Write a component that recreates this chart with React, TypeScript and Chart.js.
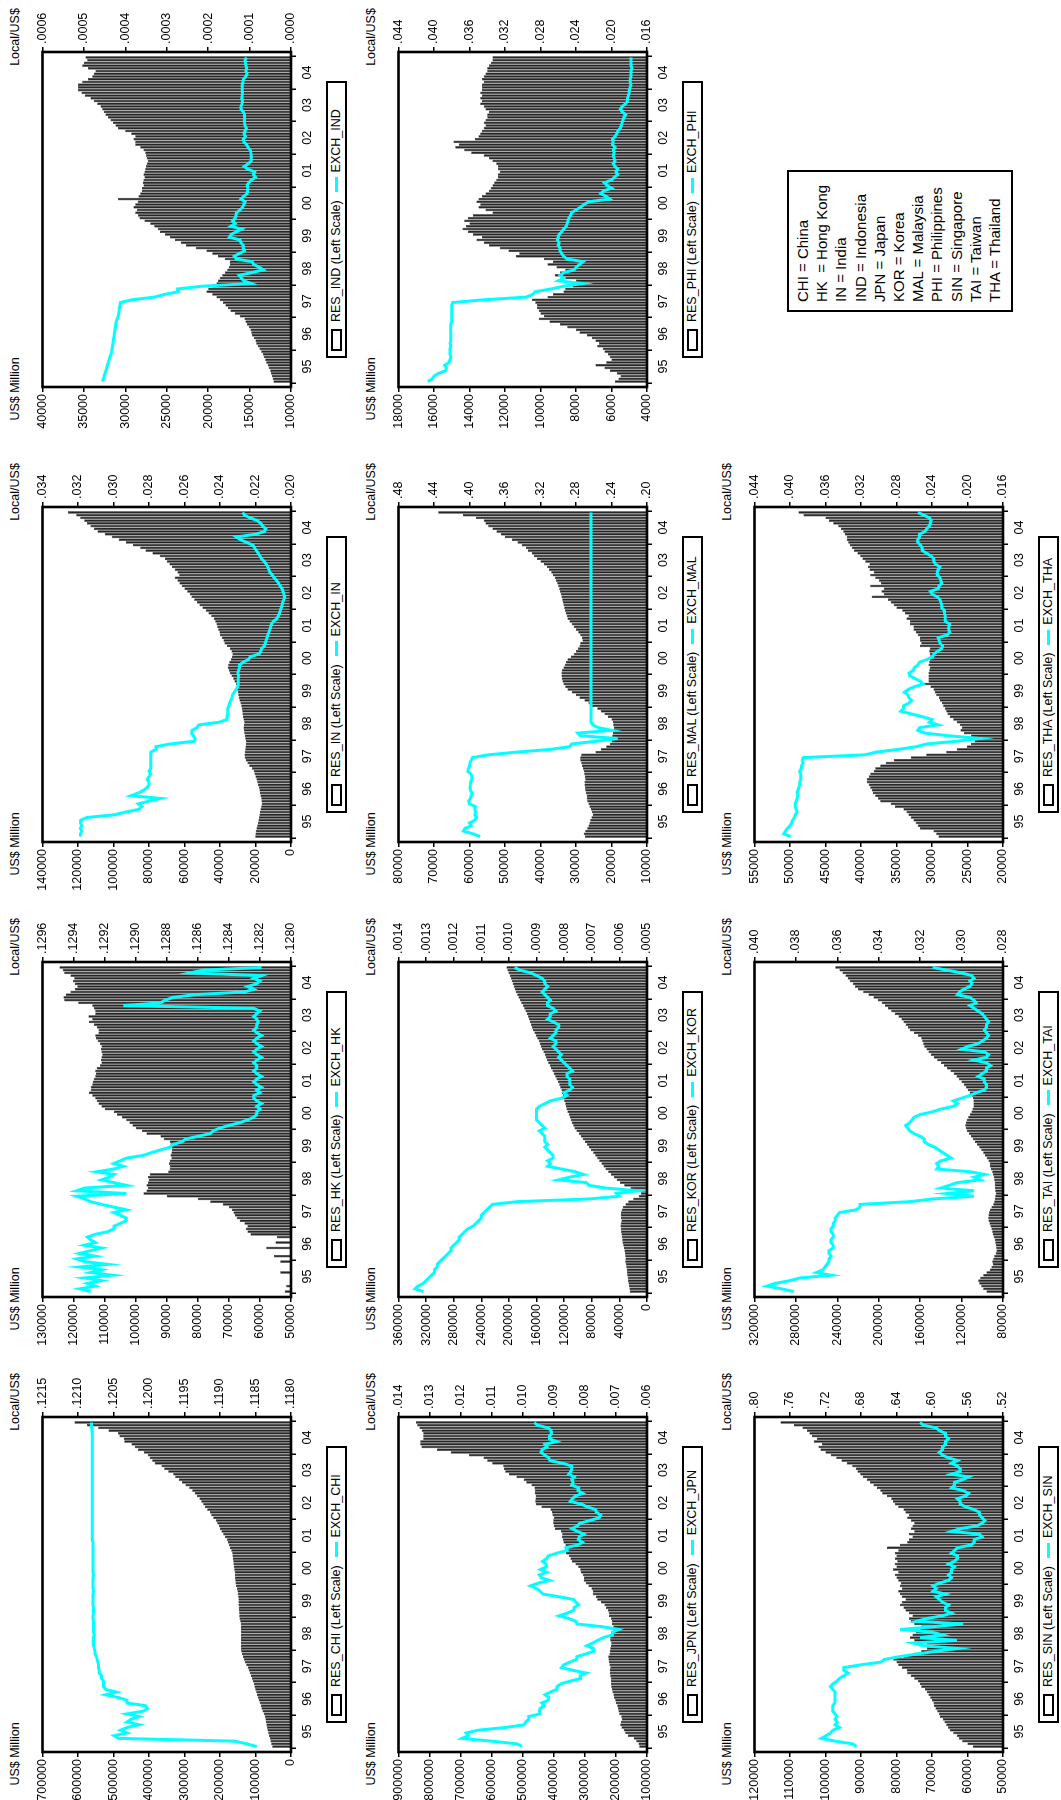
import React, { useEffect, useRef } from 'react';
import { Chart, registerables } from 'chart.js';

Chart.register(...registerables);

// ---------- axis labels ----------
const YEAR_LABELS = ['95', '96', '97', '98', '99', '00', '01', '02', '03', '04'];
const X_TICKS = [0, 6, 12, 18, 24, 30, 36, 42, 48, 54, 60, 66, 72, 78, 84, 90, 96, 102, 108, 114, 120];

const CHI_LEFT_TICKS = [0, 100000, 200000, 300000, 400000, 500000, 600000, 700000];
const CHI_RIGHT_TICKS = [0.118, 0.1185, 0.119, 0.1195, 0.12, 0.1205, 0.121, 0.1215];
const HK_LEFT_TICKS = [50000, 60000, 70000, 80000, 90000, 100000, 110000, 120000, 130000];
const HK_RIGHT_TICKS = [0.128, 0.1282, 0.1284, 0.1286, 0.1288, 0.129, 0.1292, 0.1294, 0.1296];
const IN_LEFT_TICKS = [0, 20000, 40000, 60000, 80000, 100000, 120000, 140000];
const IN_RIGHT_TICKS = [0.02, 0.022, 0.024, 0.026, 0.028, 0.03, 0.032, 0.034];
const IND_LEFT_TICKS = [10000, 15000, 20000, 25000, 30000, 35000, 40000];
const IND_RIGHT_TICKS = [0, 0.0001, 0.0002, 0.0003, 0.0004, 0.0005, 0.0006];
const JPN_LEFT_TICKS = [100000, 200000, 300000, 400000, 500000, 600000, 700000, 800000, 900000];
const JPN_RIGHT_TICKS = [0.006, 0.007, 0.008, 0.009, 0.01, 0.011, 0.012, 0.013, 0.014];
const KOR_LEFT_TICKS = [0, 40000, 80000, 120000, 160000, 200000, 240000, 280000, 320000, 360000];
const KOR_RIGHT_TICKS = [0.0005, 0.0006, 0.0007, 0.0008, 0.0009, 0.001, 0.0011, 0.0012, 0.0013, 0.0014];
const MAL_LEFT_TICKS = [10000, 20000, 30000, 40000, 50000, 60000, 70000, 80000];
const MAL_RIGHT_TICKS = [0.2, 0.24, 0.28, 0.32, 0.36, 0.4, 0.44, 0.48];
const PHI_LEFT_TICKS = [4000, 6000, 8000, 10000, 12000, 14000, 16000, 18000];
const PHI_RIGHT_TICKS = [0.016, 0.02, 0.024, 0.028, 0.032, 0.036, 0.04, 0.044];
const SIN_LEFT_TICKS = [50000, 60000, 70000, 80000, 90000, 100000, 110000, 120000];
const SIN_RIGHT_TICKS = [0.52, 0.56, 0.6, 0.64, 0.68, 0.72, 0.76, 0.8];
const TAI_LEFT_TICKS = [80000, 120000, 160000, 200000, 240000, 280000, 320000];
const TAI_RIGHT_TICKS = [0.028, 0.03, 0.032, 0.034, 0.036, 0.038, 0.04];
const THA_LEFT_TICKS = [20000, 25000, 30000, 35000, 40000, 45000, 50000, 55000];
const THA_RIGHT_TICKS = [0.016, 0.02, 0.024, 0.028, 0.032, 0.036, 0.04, 0.044];

// ---------- data: monthly 1995:01 - 2004:12 ----------
const RES_CHI = [
  53000, 55500, 57500, 59500, 62000, 64000, 66000, 67500, 69000, 70500, 72000, 73600,
  77000, 80000, 83000, 85500, 88000, 91000, 94000, 96000, 98000, 100500, 103000, 105000,
  107500, 110000, 113000, 116000, 119000, 122000, 126000, 130000, 133000, 135500, 138000, 140000,
  140500, 140500, 140800, 141000, 140900, 140700, 140600, 140800, 141100, 141700, 142800, 145000,
  145500, 146000, 146800, 147500, 148000, 148000, 148200, 148800, 149800, 150800, 152000, 154700,
  156000, 156800, 157400, 158000, 158800, 159600, 161000, 162000, 163000, 164000, 164800, 165600,
  168000, 171500, 175000, 178000, 181000, 186000, 191000, 196000, 200000, 203000, 208000, 212200,
  219000, 225000, 228000, 236000, 242000, 247000, 253000, 258000, 265000, 271000, 278000, 286400,
  297000, 307000, 316000, 326000, 332000, 346000, 357000, 365000, 384000, 391000, 398000, 403300,
  415000, 431000, 440000, 449000, 470000, 471000, 483000, 487000, 514000, 543000, 575000, 610000,
];
const EXCH_CHI = [
  0.11848, 0.11862, 0.1188, 0.12043, 0.12049, 0.12031, 0.1204, 0.12031, 0.12014, 0.12031, 0.12025, 0.12014,
  0.12031, 0.12008, 0.12002, 0.12005, 0.12031, 0.12031, 0.12043, 0.12061, 0.12046, 0.12061, 0.12064, 0.12064,
  0.12064, 0.12067, 0.12067, 0.1207, 0.1207, 0.12071, 0.12071, 0.12072, 0.12073, 0.12074, 0.12076, 0.12076,
  0.12077, 0.12078, 0.12078, 0.12078, 0.12078, 0.12077, 0.12078, 0.12078, 0.12078, 0.12078, 0.12078, 0.12079,
  0.12079, 0.12078, 0.12078, 0.12078, 0.12079, 0.12079, 0.12079, 0.12079, 0.12079, 0.12078, 0.12079, 0.12079,
  0.12079, 0.12079, 0.12079, 0.12078, 0.12079, 0.12079, 0.12079, 0.12079, 0.12079, 0.12079, 0.12079, 0.12079,
  0.12079, 0.12079, 0.12079, 0.12079, 0.1208, 0.1208, 0.1208, 0.1208, 0.1208, 0.1208, 0.1208, 0.1208,
  0.1208, 0.1208, 0.1208, 0.1208, 0.1208, 0.1208, 0.1208, 0.1208, 0.1208, 0.1208, 0.1208, 0.1208,
  0.1208, 0.1208, 0.1208, 0.1208, 0.1208, 0.1208, 0.1208, 0.1208, 0.1208, 0.1208, 0.1208, 0.1208,
  0.1208, 0.1208, 0.1208, 0.1208, 0.1208, 0.1208, 0.1208, 0.1208, 0.1208, 0.12081, 0.12081, 0.12081,
];

const RES_HK = [
  52000, null, 51500, null, null, null, null, 53500, null, null, null, 53500,
  null, 55500, null, null, 58000, null, 55000, null, 54500, 63000, 64000, 64500,
  64000, 65000, 66500, 67500, 68000, 68500, 69000, 70000, 72000, 76000, 80000, 90000,
  97500, 96500, 96000, 96500, 96000, 95800, 96000, 95500, 89500, 89000, 89000, 89300,
  89000, 88500, 88800, 88500, 88300, 88500, 88800, 89000, 91000, 92000, 96500, 98000,
  100000, 101000, 102000, 103000, 104500, 106000, 107000, 110000, 111000, 112000, 112500, 113000,
  114000, 115000, 114500, 114500, 114000, 113800, 113500, 113000, 112800, 113000, 112500, 111500,
  111000, 111200, 111000, 110800, 111000, 111200, 111000, 111500, 112200, 112800, 113000, 112000,
  112000, 112500, 113500, 115000, 114000, 115200, 113000, 113000, 113500, 114000, 118500, 123000,
  123200, 122500, 121000, 119500, 118800, 119500, 120200, 119800, 121000, 123000, 123500, 124500,
];
const EXCH_HK = [
  0.12929, 0.12936, 0.12926, 0.12931, 0.12922, 0.12933, 0.12915, 0.12929, 0.12922, 0.12936, 0.12918, 0.12933,
  0.12938, 0.12926, 0.12936, 0.12929, 0.12922, 0.12933, 0.12926, 0.12929, 0.12931, 0.12926, 0.12918, 0.12914,
  0.12914, 0.1291, 0.12906, 0.12906, 0.1291, 0.12914, 0.12906, 0.12914, 0.12922, 0.12929, 0.12933, 0.12938,
  0.12906, 0.12938, 0.12933, 0.12906, 0.12914, 0.12922, 0.12917, 0.12914, 0.12925, 0.12914, 0.12908, 0.12914,
  0.1291, 0.12906, 0.12895, 0.1289, 0.12884, 0.12878, 0.12876, 0.1287, 0.12868, 0.1286, 0.12852, 0.1285,
  0.12846, 0.1284, 0.12833, 0.12828, 0.12824, 0.12822, 0.12822, 0.1282, 0.12822, 0.12819, 0.12822, 0.12824,
  0.12824, 0.1282, 0.12822, 0.12819, 0.12822, 0.12824, 0.12822, 0.12819, 0.12822, 0.12824, 0.12822, 0.12822,
  0.12824, 0.12822, 0.12819, 0.12822, 0.12824, 0.12822, 0.12819, 0.12822, 0.12824, 0.12822, 0.12819, 0.12822,
  0.12824, 0.12822, 0.12822, 0.12821, 0.12822, 0.12824, 0.12822, 0.1282, 0.12824, 0.12908, 0.12884, 0.12881,
  0.12876, 0.12862, 0.1283, 0.12824, 0.12828, 0.12822, 0.1282, 0.12824, 0.12819, 0.12865, 0.12857, 0.12819,
];

const RES_IN = [
  20200, 20000, 19800, 19500, 19000, 18600, 18300, 18000, 17800, 17500, 17200, 16800,
  16500, 16600, 16800, 17200, 17500, 17800, 18200, 18600, 19000, 19500, 20000, 20500,
  21000, 22000, 23500, 24500, 25500, 26000, 26200, 26000, 25800, 25600, 25500, 25400,
  25800, 26000, 26300, 26500, 26800, 26500, 26400, 26700, 27000, 27300, 27500, 27800,
  28000, 28500, 29000, 29400, 29700, 30000, 30300, 30500, 31000, 31800, 32500, 33500,
  34500, 35000, 35600, 35400, 34800, 34000, 33300, 33000, 33500, 34500, 36000, 37500,
  38000, 39000, 40000, 40300, 41000, 41500, 42000, 42700, 43500, 45000, 46500, 48000,
  49800, 51500, 53000, 54500, 56000, 57000, 58500, 60000, 61500, 62800, 64000, 65500,
  63000, 64000, 65500, 67000, 68500, 70000, 71000, 74000, 78000, 82000, 85000, 89000,
  93000, 97000, 101000, 105000, 109000, 111000, 113000, 115000, 116500, 118700, 121000, 125700,
];
const EXCH_IN = [
  0.03186, 0.03186, 0.0318, 0.03186, 0.0318, 0.03186, 0.03185, 0.0315, 0.02996, 0.0293, 0.02857, 0.0284,
  0.0286, 0.028, 0.02736, 0.029, 0.0286, 0.0283, 0.0281, 0.028, 0.028, 0.0281, 0.028, 0.0279,
  0.028, 0.0279, 0.0279, 0.0279, 0.0279, 0.0279, 0.0279, 0.0279, 0.0276, 0.0276, 0.0268, 0.02545,
  0.0254, 0.0255, 0.0256, 0.02557, 0.0253, 0.0252, 0.02403, 0.0236, 0.0236, 0.02356, 0.02356, 0.02356,
  0.0235, 0.02345, 0.0234, 0.02332, 0.0233, 0.0232, 0.0231, 0.023, 0.02297, 0.02297, 0.02297, 0.02295,
  0.023, 0.02295, 0.0229, 0.0229, 0.0227, 0.0224, 0.0223, 0.0218, 0.0217, 0.02166, 0.0215, 0.02145,
  0.0214, 0.02135, 0.0213, 0.02125, 0.02119, 0.02115, 0.0211, 0.021, 0.0208, 0.02071, 0.02065, 0.0206,
  0.02055, 0.0205, 0.02047, 0.0204, 0.02036, 0.0204, 0.02045, 0.0205, 0.0206, 0.0207, 0.0208, 0.02095,
  0.02105, 0.02119, 0.02125, 0.0213, 0.0214, 0.0215, 0.02166, 0.02175, 0.02185, 0.02195, 0.02205, 0.02214,
  0.0225, 0.02285, 0.02308, 0.022, 0.0215, 0.02142, 0.0216, 0.0217, 0.0219, 0.0223, 0.02261, 0.02273,
];

const RES_IND = [
  12100, 12200, 12300, 12400, 12500, 12700, 12800, 13000, 13100, 13300, 13400, 13600,
  13800, 14000, 14200, 14300, 14500, 14700, 14800, 14900, 15100, 15300, 15500, 15600,
  16200, 16800, 17300, 17600, 17900, 18200, 18600, 19000, 19500, 20200, 20000, 19500,
  19000, 18800, 18600, 18300, 18000, 17700, 17500, 17400, 17400, 18000, 18800, 19500,
  20200, 21500, 22700, 23300, 24000, 24600, 25200, 25800, 26100, 26500, 27000, 27700,
  28300, 28500, 28800, 28600, 29000, 28800, 28500, 30900, 28400, 28200, 28000, 28000,
  27800, 27900, 27800, 27700, 27800, 27700, 27600, 27500, 27400, 27300, 27400, 27500,
  27600, 27800, 28200, 28800, 28800, 29000, 28800, 29300, 30000, 30900, 31200, 31500,
  31800, 32100, 32400, 32600, 32800, 33000, 33400, 33800, 34200, 34900, 35300, 35700,
  35700, 35700, 35200, 34500, 34000, 33800, 33600, 34500, 35200, 35000, 34600, 34800,
];
const EXCH_IND = [
  0.000455, 0.000453, 0.000451, 0.000449, 0.000447, 0.000445, 0.000443, 0.000441, 0.000439, 0.000437, 0.000435, 0.000433,
  0.000432, 0.000431, 0.00043, 0.000429, 0.000428, 0.000427, 0.000426, 0.000425, 0.000424, 0.000423, 0.000422, 0.00042,
  0.000417, 0.000416, 0.000415, 0.000414, 0.000413, 0.000412, 0.000385, 0.00033, 0.000305, 0.000272, 0.000274, 0.000215,
  0.0000964, 0.000114, 0.00012, 0.000125, 0.000095, 0.0000671, 0.0000769, 0.0000903, 0.0000935, 0.000132, 0.000137, 0.000125,
  0.000112, 0.000115, 0.000115, 0.000121, 0.000123, 0.000149, 0.000145, 0.000132, 0.000119, 0.000145, 0.000135, 0.000141,
  0.000135, 0.000133, 0.000132, 0.000123, 0.000117, 0.000114, 0.000111, 0.000121, 0.000114, 0.000106, 0.000105, 0.000104,
  0.000106, 0.000102, 0.0000962, 0.0000857, 0.0000904, 0.0000874, 0.000105, 0.000113, 0.000103, 0.0000958, 0.0000959, 0.0000962,
  0.0000969, 0.0000981, 0.000104, 0.000107, 0.000114, 0.000115, 0.00011, 0.000113, 0.000111, 0.000108, 0.000111, 0.000112,
  0.000113, 0.000112, 0.000112, 0.000115, 0.000121, 0.000121, 0.000118, 0.000117, 0.000119, 0.000118, 0.000117, 0.000118,
  0.000118, 0.000118, 0.000116, 0.000115, 0.000109, 0.000106, 0.000109, 0.000107, 0.000109, 0.00011, 0.000111, 0.000108,
];

const RES_JPN = [
  125000, 127000, 135000, 143000, 162000, 170000, 175000, 182000, 186000, 184000, 181000, 183000,
  189000, 192000, 193000, 196000, 200000, 202000, 206000, 208000, 211000, 213000, 215000, 217000,
  216000, 217000, 218000, 219000, 220000, 218000, 221000, 222000, 224000, 225000, 221000, 220000,
  218000, 216000, 215000, 218000, 218000, 215000, 210000, 208000, 209000, 213000, 213000, 216000,
  222000, 223000, 226000, 232000, 237000, 248000, 260000, 264000, 275000, 275000, 279000, 288000,
  297000, 304000, 303000, 307000, 313000, 315000, 321000, 330000, 342000, 346000, 352000, 361000,
  360000, 362000, 362000, 369000, 371000, 374000, 373000, 377000, 397000, 400000, 402000, 402000,
  400000, 404000, 406000, 411000, 440000, 458000, 460000, 459000, 458000, 461000, 461000, 462000,
  472000, 489000, 497000, 520000, 544000, 556000, 560000, 563000, 598000, 614000, 626000, 673000,
  732000, 776000, 826000, 830000, 830000, 820000, 820000, 820000, 825000, 832000, 840000, 844000,
];
const EXCH_JPN = [
  0.01002, 0.01018, 0.01101, 0.01195, 0.01175, 0.01182, 0.01144, 0.01056, 0.00995, 0.00991, 0.00981, 0.00981,
  0.00945, 0.00946, 0.00944, 0.00931, 0.00939, 0.00918, 0.00916, 0.00928, 0.00911, 0.0089, 0.0089, 0.00878,
  0.00848, 0.00814, 0.00815, 0.00796, 0.00839, 0.00875, 0.00868, 0.00848, 0.00827, 0.00826, 0.00797, 0.00771,
  0.00772, 0.00794, 0.00775, 0.00758, 0.00741, 0.00711, 0.00711, 0.00691, 0.00743, 0.00826, 0.00829, 0.00851,
  0.00883, 0.00857, 0.00835, 0.00835, 0.0082, 0.00829, 0.00836, 0.00883, 0.00935, 0.00944, 0.00955, 0.00975,
  0.0095, 0.00914, 0.00941, 0.00947, 0.00923, 0.00943, 0.00924, 0.00925, 0.00936, 0.00923, 0.00918, 0.00891,
  0.00857, 0.00861, 0.00823, 0.00808, 0.00821, 0.00818, 0.00803, 0.00824, 0.00841, 0.00824, 0.00816, 0.00784,
  0.00754, 0.00749, 0.00763, 0.00765, 0.00792, 0.00811, 0.00847, 0.0084, 0.0083, 0.00807, 0.00822, 0.0082,
  0.00842, 0.00838, 0.00842, 0.00834, 0.00852, 0.00845, 0.00842, 0.00842, 0.00871, 0.00913, 0.00916, 0.00929,
  0.00941, 0.00938, 0.00922, 0.00929, 0.00891, 0.00914, 0.00914, 0.00907, 0.00909, 0.00918, 0.00953, 0.00963,
];

const RES_KOR = [
  25000, 25500, 26000, 26800, 27500, 28000, 28500, 29000, 29500, 30000, 30500, 31500,
  31000, 31500, 32000, 32500, 33500, 34500, 35500, 36000, 36500, 37000, 37500, 38000,
  38500, 38000, 37000, 37500, 38000, 37500, 36500, 35000, 31000, 27000, 20000, 12000,
  9000, 16000, 24000, 33000, 39000, 44000, 48000, 52000, 56000, 60000, 63000, 66000,
  69000, 72000, 75000, 78000, 81000, 84000, 87000, 90000, 93000, 96000, 99000, 102000,
  105000, 107000, 109000, 110500, 112000, 113500, 115000, 116500, 117500, 118500, 120000, 121000,
  122000, 123000, 124000, 125500, 127000, 129000, 131000, 133000, 135000, 137000, 139000, 141000,
  143000, 145000, 146500, 148000, 150000, 152000, 154000, 155500, 157000, 159000, 161000, 163000,
  165000, 166500, 168000, 169500, 171000, 172500, 174000, 176000, 178000, 180000, 182000, 184000,
  186000, 188000, 190000, 191500, 193000, 194500, 196000, 197500, 199000, 200500, 202000, 203500,
];
const EXCH_KOR = [
  0.00131, 0.00134, 0.00133, 0.00131, 0.0013, 0.00129, 0.00128, 0.00127, 0.00127, 0.00126, 0.00126, 0.00125,
  0.00124, 0.00123, 0.00122, 0.00121, 0.00121, 0.0012, 0.00119, 0.00118, 0.00118, 0.00117, 0.00116, 0.00115,
  0.00113, 0.00112, 0.00111, 0.0011, 0.0011, 0.00109, 0.00108, 0.00107, 0.00106, 0.00097, 0.00071, 0.0006,
  0.00061, 0.00053, 0.00065, 0.00071, 0.00072, 0.00082, 0.00078, 0.00073, 0.00076, 0.00081, 0.00086, 0.00085,
  0.00086, 0.00084, 0.00084, 0.00085, 0.00086, 0.00087, 0.00086, 0.00087, 0.00087, 0.00087, 0.00088, 0.00089,
  0.00087, 0.00088, 0.00089, 0.0009, 0.0009, 0.0009, 0.0009, 0.0009, 0.00089, 0.00087, 0.00085, 0.00081,
  0.00079, 0.0008, 0.00078, 0.00077, 0.00078, 0.00078, 0.00078, 0.00079, 0.00079, 0.00077, 0.00078, 0.00079,
  0.0008, 0.00081, 0.00082, 0.00081, 0.00082, 0.00083, 0.00084, 0.00083, 0.00083, 0.00085, 0.00084, 0.00083,
  0.00083, 0.00082, 0.00082, 0.00084, 0.00086, 0.00085, 0.00085, 0.00083, 0.00084, 0.00086, 0.00086, 0.00085,
  0.00086, 0.00087, 0.00088, 0.00087, 0.00086, 0.00087, 0.00087, 0.00088, 0.0009, 0.00092, 0.00096, 0.00098,
];

const RES_MAL = [
  27500, 27800, 27400, 26800, 26500, 26200, 26000, 25600, 25300, 25500, 25800, 26200,
  26500, 26800, 27000, 27000, 27200, 27400, 27500, 27600, 27600, 27400, 27500, 27700,
  27800, 28000, 28300, 28500, 28800, 28800, 28500, 24500, 23000, 21500, 20500, 20000,
  20000, 19800, 19600, 19400, 19400, 19500, 19600, 20000, 21000, 22000, 23000, 24000,
  25500, 26500, 27600, 29000, 30000, 31200, 32400, 33000, 33500, 33800, 34000, 34100,
  34100, 34000, 33500, 33200, 32800, 32400, 31500, 30600, 30000, 29500, 29000, 28800,
  28200, 28300, 28800, 29400, 30000, 30600, 31200, 31800, 32400, 32600, 32900, 33100,
  33300, 33500, 33700, 33900, 34100, 34300, 34500, 34700, 35000, 35300, 35600, 35900,
  36500, 37000, 37600, 38200, 39000, 40000, 41000, 41800, 42500, 43500, 44100, 45300,
  46500, 48000, 50000, 51200, 52400, 53500, 54700, 55500, 56000, 58200, 61800, 68800,
];
const EXCH_MAL = [
  0.388, 0.396, 0.407, 0.405, 0.398, 0.4, 0.394, 0.392, 0.394, 0.393, 0.394, 0.3935,
  0.4, 0.401, 0.399, 0.398, 0.397, 0.399, 0.3995, 0.399, 0.3985, 0.3975, 0.397, 0.3985,
  0.402, 0.401, 0.4, 0.3995, 0.398, 0.3965, 0.379, 0.347, 0.309, 0.287, 0.285, 0.257,
  0.233, 0.275, 0.278, 0.24, 0.255, 0.261, 0.2632, 0.2632, 0.2632, 0.2632, 0.2632, 0.2632,
  0.2632, 0.2632, 0.2632, 0.2632, 0.2632, 0.2632, 0.2632, 0.2632, 0.2632, 0.2632, 0.2632, 0.2632,
  0.2632, 0.2632, 0.2632, 0.2632, 0.2632, 0.2632, 0.2632, 0.2632, 0.2632, 0.2632, 0.2632, 0.2632,
  0.2632, 0.2632, 0.2632, 0.2632, 0.2632, 0.2632, 0.2632, 0.2632, 0.2632, 0.2632, 0.2632, 0.2632,
  0.2632, 0.2632, 0.2632, 0.2632, 0.2632, 0.2632, 0.2632, 0.2632, 0.2632, 0.2632, 0.2632, 0.2632,
  0.2632, 0.2632, 0.2632, 0.2632, 0.2632, 0.2632, 0.2632, 0.2632, 0.2632, 0.2632, 0.2632, 0.2632,
  0.2632, 0.2632, 0.2632, 0.2632, 0.2632, 0.2632, 0.2632, 0.2632, 0.2632, 0.2632, 0.2632, 0.2632,
];

const RES_PHI = [
  5800, 5600, 5500, 5700, 6100, 6400, 6900, 6300, 6000, 6100, 6200, 6400,
  6500, 6800, 6700, 6900, 7100, 7400, 7800, 8000, 8500, 8900, 9500, 10100,
  9800, 10000, 10100, 10200, 10200, 10300, 10500, 9600, 9300, 8700, 8600, 8200,
  8300, 8000, 8600, 9200, 8900, 8600, 9100, 9600, 9300, 9800, 11400, 11200,
  11800, 12300, 12900, 13200, 13600, 13300, 13800, 14100, 14400, 14200, 14000, 14300,
  14100, 13800, 12700, 13100, 13500, 13400, 13600, 13500, 13300, 13100, 12900, 12800,
  12700, 12600, 12500, 12400, 12400, 12300, 12400, 12400, 12500, 12700, 12900, 13200,
  13900, 14300, 14800, 14600, 14900, 13700, 13500, 13400, 13300, 13200, 13100, 13200,
  13100, 13000, 13000, 12900, 13100, 13200, 13400, 13300, 13400, 13300, 13400, 13300,
  13300, 13300, 13200, 13300, 13200, 13100, 13000, 13000, 12900, 12800, 12700, 12700,
];
const EXCH_PHI = [
  0.0407, 0.0402, 0.04, 0.0395, 0.0387, 0.0386, 0.0388, 0.0383, 0.0382, 0.0381, 0.0382, 0.0382,
  0.0382, 0.0381, 0.0382, 0.0381, 0.0381, 0.0381, 0.0381, 0.0381, 0.0381, 0.0381, 0.038, 0.038,
  0.038, 0.038, 0.038, 0.038, 0.038, 0.0379, 0.0345, 0.0296, 0.0289, 0.0286, 0.0268, 0.0254,
  0.0233, 0.026, 0.0254, 0.0258, 0.0254, 0.0242, 0.024, 0.0236, 0.0232, 0.025, 0.0254, 0.0256,
  0.0258, 0.0258, 0.026, 0.0259, 0.0261, 0.026, 0.0259, 0.0256, 0.0254, 0.0251, 0.025, 0.0249,
  0.0248, 0.0246, 0.0245, 0.024, 0.0235, 0.0231, 0.0226, 0.0202, 0.0206, 0.0212, 0.0209, 0.02,
  0.0205, 0.0208, 0.02, 0.0197, 0.0193, 0.0195, 0.0193, 0.0196, 0.0198, 0.0196, 0.0197, 0.0198,
  0.0197, 0.0198, 0.0196, 0.0199, 0.0198, 0.0199, 0.0196, 0.0194, 0.0193, 0.019, 0.0189, 0.0188,
  0.0187, 0.0186, 0.0184, 0.0188, 0.019, 0.0188, 0.0184, 0.0182, 0.0182, 0.0181, 0.018, 0.018,
  0.0179, 0.0178, 0.0179, 0.0179, 0.0178, 0.0178, 0.0178, 0.0177, 0.0178, 0.0178, 0.0178, 0.0178,
];

const RES_SIN = [
  58500, 60000, 61500, 62500, 63000, 64000, 65000, 65500, 66000, 66500, 67000, 67800,
  68000, 68500, 69000, 69500, 69600, 70000, 70500, 71000, 71500, 72000, 73000, 73400,
  74000, 75000, 76000, 77000, 77100, 78500, 79500, 80000, 80900, 78000, 75300, 73000,
  71500, 72500, 71500, 75000, 76200, 75500, 74500, 73400, 73000, 75000, 76000, 76500,
  75500, 76500, 77500, 78000, 79000, 78500, 77500, 78500, 79000, 79500, 78500, 79000,
  78800, 79500, 80000, 80500, 79500, 81000, 80000, 80500, 79800, 80400, 80000, 80500,
  79500, 82700, 79000, 77000, 76500, 75500, 76500, 75000, 76000, 75500, 75000, 76000,
  77000, 76500, 77500, 78000, 79500, 80500, 81000, 81500, 82700, 84000, 84600, 85500,
  86500, 87500, 88400, 89500, 90200, 91000, 91500, 92500, 94000, 95500, 97000, 98500,
  100000, 101400, 102000, 101000, 103300, 102500, 103800, 104500, 105200, 106500, 108900, 112700,
];
const EXCH_SIN = [
  0.6849, 0.6897, 0.7092, 0.7246, 0.7194, 0.7143, 0.7117, 0.7042, 0.7092, 0.7067, 0.7092, 0.7072,
  0.7092, 0.7117, 0.7117, 0.7117, 0.7097, 0.7092, 0.7092, 0.7092, 0.7092, 0.7117, 0.7143, 0.7117,
  0.7072, 0.7042, 0.6993, 0.6944, 0.6993, 0.6993, 0.6803, 0.6579, 0.6536, 0.6369, 0.617, 0.5952,
  0.5714, 0.6098, 0.6211, 0.572, 0.6135, 0.5882, 0.6, 0.636, 0.5988, 0.565, 0.6173, 0.6061,
  0.5882, 0.578, 0.5848, 0.5848, 0.5814, 0.5882, 0.5917, 0.5952, 0.5848, 0.5988, 0.5952, 0.5988,
  0.5917, 0.5814, 0.578, 0.5814, 0.578, 0.578, 0.5747, 0.5814, 0.5747, 0.5714, 0.5714, 0.578,
  0.5747, 0.5714, 0.5556, 0.5525, 0.5525, 0.5435, 0.5464, 0.578, 0.5682, 0.5495, 0.5435, 0.5405,
  0.5435, 0.5464, 0.5464, 0.5525, 0.5618, 0.5682, 0.5682, 0.5714, 0.5618, 0.5587, 0.565, 0.578,
  0.5747, 0.5747, 0.565, 0.5587, 0.578, 0.5682, 0.5682, 0.5714, 0.578, 0.5714, 0.5814, 0.5882,
  0.5917, 0.5882, 0.5882, 0.5848, 0.5848, 0.5814, 0.5848, 0.5848, 0.5917, 0.5952, 0.6098, 0.6135,
];

const RES_TAI = [
  96000, 99000, 101000, 103000, 103800, 102000, 99000, 96000, 92700, 91000, 90000, 90300,
  89500, 88500, 87000, 86300, 86500, 87000, 87500, 88000, 89000, 90000, 90500, 91000,
  92000, 93000, 94000, 94300, 94000, 93500, 92500, 91000, 89500, 88500, 88000, 87500,
  87000, 87500, 88000, 87900, 88000, 88500, 89000, 90000, 90500, 91500, 92500, 92700,
  94000, 95800, 97500, 99000, 101000, 103000, 105000, 107000, 109000, 111000, 113000, 115000,
  116000, 116500, 116000, 115000, 113500, 112000, 110500, 109500, 108500, 108500, 108500, 109000,
  110000, 112000, 114000, 116000, 118000, 120000, 122800, 125000, 127500, 130700, 134000, 137000,
  140000, 143500, 147000, 149700, 152000, 154000, 156000, 157000, 158000, 159000, 162000, 166000,
  170000, 171800, 174000, 176000, 178000, 181000, 184500, 188000, 191000, 194000, 197000, 201000,
  205000, 210000, 215000, 220000, 223000, 225000, 228000, 230000, 232000, 235000, 238000, 242000,
];
const EXCH_TAI = [
  0.0381, 0.0387, 0.0394, 0.039, 0.0383, 0.0378, 0.0363, 0.037, 0.0367, 0.0366, 0.0365, 0.0364,
  0.0364, 0.0363, 0.0364, 0.0364, 0.0362, 0.0362, 0.0363, 0.0363, 0.0362, 0.0362, 0.0363, 0.0363,
  0.0362, 0.0362, 0.0361, 0.0361, 0.036, 0.0359, 0.0351, 0.0349, 0.0349, 0.0325, 0.0314, 0.0294,
  0.0307, 0.0294, 0.031, 0.0306, 0.0302, 0.0291, 0.0294, 0.0289, 0.0296, 0.0312, 0.0311, 0.0312,
  0.031, 0.0305, 0.0307, 0.0309, 0.0311, 0.0313, 0.0316, 0.0318, 0.0318, 0.032, 0.0323, 0.0325,
  0.0326, 0.0327, 0.0325, 0.0324, 0.0323, 0.032, 0.0314, 0.031, 0.0304, 0.0302, 0.0304, 0.03,
  0.0296, 0.0293, 0.0289, 0.0288, 0.0288, 0.0289, 0.0289, 0.0292, 0.029, 0.0288, 0.0288, 0.0286,
  0.0288, 0.0294, 0.0288, 0.0287, 0.0289, 0.03, 0.0297, 0.0292, 0.029, 0.0288, 0.0287, 0.0288,
  0.0289, 0.0288, 0.0288, 0.0287, 0.0288, 0.0289, 0.029, 0.0292, 0.0294, 0.0296, 0.0293, 0.0294,
  0.0296, 0.0302, 0.0301, 0.0299, 0.0296, 0.0295, 0.0296, 0.0294, 0.0295, 0.03, 0.0307, 0.0314,
];

const RES_THA = [
  29100, 29400, 29800, 31700, 32000, 32300, 32600, 33000, 33300, 33600, 34000, 35200,
  35800, 37300, 37600, 38000, 38300, 38500, 38700, 38900, 39200, 39200, 38900, 38700,
  38200, 38000, 37300, 36500, 35400, 33000, 30800, 28000, 26500, 25100, 24500, 24000,
  23000, 24500, 25500, 26000, 25800, 26100, 26500, 27000, 27500, 27800, 28000, 28200,
  28400, 28600, 28900, 29000, 29400, 29600, 29800, 30200, 31700, 30500, 30500, 30500,
  30500, 30400, 30300, 30500, 30400, 30300, 30300, 30300, 30400, 30300, 31700, 31500,
  31700, 31700, 32000, 32300, 32600, 32600, 33100, 33100, 33600, 33300, 33800, 34200,
  35000, 35400, 35800, 36200, 38500, 36800, 37100, 36800, 38700, 37200, 37500, 38000,
  38700, 38200, 38800, 39000, 38800, 39400, 39800, 40100, 40500, 41000, 41300, 41600,
  41800, 42000, 42000, 42300, 42500, 42800, 43200, 43900, 44500, 45000, 48100, 48800,
];
const EXCH_THA = [
  0.0399, 0.0407, 0.0405, 0.0403, 0.04, 0.0398, 0.0397, 0.0395, 0.0394, 0.0392, 0.0393, 0.0394,
  0.0394, 0.0393, 0.0392, 0.0391, 0.0392, 0.0391, 0.039, 0.0389, 0.0389, 0.0388, 0.0388, 0.0388,
  0.0389, 0.0387, 0.0387, 0.0385, 0.0386, 0.0385, 0.0316, 0.0303, 0.0278, 0.0258, 0.0246, 0.0212,
  0.0186, 0.0221, 0.0248, 0.0256, 0.0254, 0.0233, 0.0243, 0.024, 0.0251, 0.0263, 0.0275, 0.0272,
  0.0272, 0.0266, 0.0263, 0.0266, 0.0267, 0.0271, 0.0267, 0.026, 0.025, 0.0253, 0.0259, 0.0265,
  0.0266, 0.0261, 0.026, 0.0256, 0.0254, 0.0246, 0.0239, 0.0238, 0.0234, 0.0229, 0.0228, 0.0231,
  0.0232, 0.0233, 0.0223, 0.022, 0.0221, 0.0221, 0.022, 0.0225, 0.0225, 0.0225, 0.0226, 0.0226,
  0.0229, 0.0229, 0.023, 0.0231, 0.0234, 0.024, 0.0242, 0.0233, 0.0232, 0.0229, 0.023, 0.0231,
  0.0234, 0.0234, 0.0233, 0.0231, 0.0236, 0.0238, 0.0238, 0.0241, 0.0246, 0.0251, 0.0251, 0.0253,
  0.0256, 0.0256, 0.0254, 0.0254, 0.0248, 0.0246, 0.0243, 0.0242, 0.0241, 0.0243, 0.0249, 0.0256,
];

const DEFINITIONS = [
  'CHI = China', 'HK  = Hong Kong', 'IN = India', 'IND = Indonesia', 'JPN = Japan', 'KOR = Korea',
  'MAL = Malaysia', 'PHI = Philippines', 'SIN = Singapore', 'TAI = Taiwan', 'THA = Thailand',
];

// ---------- panels ----------
const PANELS = [
  { code: 'CHI', res: RES_CHI, exch: EXCH_CHI, left: CHI_LEFT_TICKS, right: CHI_RIGHT_TICKS, dec: 4, row: 0, col: 0 },
  { code: 'HK', res: RES_HK, exch: EXCH_HK, left: HK_LEFT_TICKS, right: HK_RIGHT_TICKS, dec: 4, row: 0, col: 1 },
  { code: 'IN', res: RES_IN, exch: EXCH_IN, left: IN_LEFT_TICKS, right: IN_RIGHT_TICKS, dec: 3, row: 0, col: 2 },
  { code: 'IND', res: RES_IND, exch: EXCH_IND, left: IND_LEFT_TICKS, right: IND_RIGHT_TICKS, dec: 4, row: 0, col: 3 },
  { code: 'JPN', res: RES_JPN, exch: EXCH_JPN, left: JPN_LEFT_TICKS, right: JPN_RIGHT_TICKS, dec: 3, row: 1, col: 0 },
  { code: 'KOR', res: RES_KOR, exch: EXCH_KOR, left: KOR_LEFT_TICKS, right: KOR_RIGHT_TICKS, dec: 4, row: 1, col: 1 },
  { code: 'MAL', res: RES_MAL, exch: EXCH_MAL, left: MAL_LEFT_TICKS, right: MAL_RIGHT_TICKS, dec: 2, row: 1, col: 2 },
  { code: 'PHI', res: RES_PHI, exch: EXCH_PHI, left: PHI_LEFT_TICKS, right: PHI_RIGHT_TICKS, dec: 3, row: 1, col: 3 },
  { code: 'SIN', res: RES_SIN, exch: EXCH_SIN, left: SIN_LEFT_TICKS, right: SIN_RIGHT_TICKS, dec: 2, row: 2, col: 0 },
  { code: 'TAI', res: RES_TAI, exch: EXCH_TAI, left: TAI_LEFT_TICKS, right: TAI_RIGHT_TICKS, dec: 3, row: 2, col: 1 },
  { code: 'THA', res: RES_THA, exch: EXCH_THA, left: THA_LEFT_TICKS, right: THA_RIGHT_TICKS, dec: 3, row: 2, col: 2 },
];

// ---------- layout (landscape page, rotated into the portrait image) ----------
const COL_U = [48, 503, 958, 1413];
const ROW_V = [42, 398, 754];
const PW = 335;
const PH = 249;
const AX_L = 50;
const AX_R = 50;
const PAD_T = 10;
const AX_B = 30;
const CYAN = '#00ffff';

function detectNarrow() {
  try {
    const ctx = document.createElement('canvas').getContext('2d');
    if (!ctx) return null;
    const s = 'RES_TAI (Left Scale) 0123456789 Million';
    ctx.font = '40px monospace';
    const base = ctx.measureText(s).width;
    for (const f of ['Liberation Sans Narrow', 'Arial Narrow', 'Nimbus Sans Narrow']) {
      ctx.font = `40px "${f}", monospace`;
      if (Math.abs(ctx.measureText(s).width - base) > 2) return f;
    }
  } catch (e) {
    return null;
  }
  return null;
}
const NARROW = detectNarrow();
const FAMILY = NARROW ? `"${NARROW}", "Liberation Sans", Arial, sans-serif` : '"Liberation Sans", Arial, sans-serif';
const FS = NARROW ? 15 : 12.5;
const FS_DEF = NARROW ? 18 : 15;

const framePlugin = {
  id: 'frame',
  afterDraw(chart: any) {
    const { ctx, chartArea: a } = chart;
    ctx.save();
    ctx.strokeStyle = '#000';
    ctx.lineWidth = 2.6;
    ctx.strokeRect(a.left, a.top, a.right - a.left, a.bottom - a.top);
    ctx.restore();
  },
};

function PanelChart({ p }: { p: any }) {
  const ref = useRef<HTMLCanvasElement>(null);
  useEffect(() => {
    const el = ref.current;
    if (!el) return;
    const font = { family: FAMILY, size: FS };
    const tickGrid = { drawOnChartArea: false, drawTicks: true, tickLength: 5, lineWidth: 1.5, color: '#000' };
    const barData = p.res.map((v: number | null, i: number) => ({ x: i + 0.5, y: v }));
    const lineData = p.exch.map((v: number, i: number) => ({ x: i + 0.5, y: v }));
    const chart = new Chart(el, {
      type: 'bar',
      data: {
        datasets: [
          {
            type: 'line',
            label: 'EXCH_' + p.code,
            data: lineData,
            yAxisID: 'y1',
            borderColor: CYAN,
            backgroundColor: CYAN,
            borderWidth: 3,
            pointRadius: 0,
            tension: 0,
            order: 0,
          },
          {
            type: 'bar',
            label: 'RES_' + p.code,
            data: barData,
            yAxisID: 'y',
            backgroundColor: '#262626',
            borderColor: '#000',
            borderWidth: 0.5,
            barPercentage: 0.94,
            categoryPercentage: 1,
            order: 1,
          },
        ],
      } as any,
      options: {
        animation: false,
        responsive: false,
        devicePixelRatio: 1,
        layout: { padding: { top: PAD_T, left: 0, right: 0, bottom: 0 } },
        plugins: { legend: { display: false }, tooltip: { enabled: false } },
        scales: {
          x: {
            type: 'linear',
            min: -1.5,
            max: 121.5,
            offset: false,
            afterBuildTicks: (s: any) => {
              s.ticks = X_TICKS.map((v) => ({ value: v }));
            },
            afterFit: (s: any) => {
              s.height = AX_B;
            },
            ticks: {
              autoSkip: false,
              maxRotation: 0,
              minRotation: 0,
              padding: 4,
              color: '#000',
              font,
              callback: (v: any) => {
                const n = Number(v);
                return n % 12 === 6 ? YEAR_LABELS[(n - 6) / 12] : '';
              },
            },
            grid: {
              ...tickGrid,
              offset: false,
              color: (ctx: any) => (ctx.tick && ctx.tick.value % 12 === 0 ? '#000' : 'rgba(0,0,0,0)'),
            },
            border: { display: false },
          },
          y: {
            type: 'linear',
            position: 'left',
            min: p.left[0],
            max: p.left[p.left.length - 1],
            afterBuildTicks: (s: any) => {
              s.ticks = p.left.map((v: number) => ({ value: v }));
            },
            afterFit: (s: any) => {
              s.width = AX_L;
            },
            ticks: { padding: 2, color: '#000', font, callback: (v: any) => String(Math.round(Number(v))) },
            grid: tickGrid,
            border: { display: false },
          },
          y1: {
            type: 'linear',
            position: 'right',
            min: p.right[0],
            max: p.right[p.right.length - 1],
            afterBuildTicks: (s: any) => {
              s.ticks = p.right.map((v: number) => ({ value: v }));
            },
            afterFit: (s: any) => {
              s.width = AX_R;
            },
            ticks: {
              padding: 3,
              color: '#000',
              font,
              callback: (v: any) => Number(v).toFixed(p.dec).replace(/^0/, ''),
            },
            grid: tickGrid,
            border: { display: false },
          },
        },
      } as any,
      plugins: [framePlugin],
    });
    return () => chart.destroy();
  }, [p]);
  const w = AX_L + PW + AX_R;
  const h = PAD_T + PH + AX_B;
  return (
    <canvas
      ref={ref}
      width={w}
      height={h}
      style={{ position: 'absolute', left: COL_U[p.col] - AX_L, top: ROW_V[p.row] - PAD_T, width: w, height: h }}
    />
  );
}

function PanelTexts({ p }: { p: any }) {
  const u0 = COL_U[p.col];
  const v0 = ROW_V[p.row];
  const base: any = { position: 'absolute', fontFamily: FAMILY, fontSize: FS, lineHeight: '17px', color: '#000', whiteSpace: 'nowrap' };
  return (
    <>
      <div style={{ ...base, left: u0 - 2 - 50, width: 100, textAlign: 'center', top: v0 - 35 }}>US$ Million</div>
      <div style={{ ...base, left: u0 + PW + 15 - 50, width: 100, textAlign: 'center', top: v0 - 35 }}>Local/US$</div>
      <div
        style={{
          ...base,
          left: u0 + 29,
          top: v0 + PH + 35,
          width: 277,
          height: 21,
          boxSizing: 'border-box',
          border: '2px solid #000',
          display: 'flex',
          alignItems: 'center',
          paddingLeft: 5,
          background: '#fff',
        }}
      >
        <span style={{ display: 'inline-block', width: 22, height: 11, border: '2px solid #000', boxSizing: 'border-box', marginRight: 7 }} />
        <span>{'RES_' + p.code + ' (Left Scale)'}</span>
        <span style={{ display: 'inline-block', width: 15, height: 3, background: CYAN, marginLeft: 8, marginRight: 5 }} />
        <span>{'EXCH_' + p.code}</span>
      </div>
    </>
  );
}

export default function App() {
  return (
    <div style={{ position: 'absolute', left: 0, top: 0, width: 1061, height: 1800, overflow: 'hidden', background: '#fff' }}>
      <div
        style={{
          position: 'absolute',
          left: 0,
          top: 0,
          width: 1800,
          height: 1061,
          transformOrigin: '0 0',
          transform: 'translate(0px, 1800px) rotate(-90deg)',
          background: '#fff',
        }}
      >
        {PANELS.map((p) => (
          <PanelChart key={p.code} p={p} />
        ))}
        {PANELS.map((p) => (
          <PanelTexts key={'t' + p.code} p={p} />
        ))}
        <div
          style={{
            position: 'absolute',
            left: 1488,
            top: 787,
            width: 142,
            height: 226,
            boxSizing: 'border-box',
            border: '2.5px solid #000',
            paddingTop: 4,
            paddingLeft: 8,
            fontFamily: FAMILY,
            fontSize: FS_DEF,
            lineHeight: '19.2px',
            whiteSpace: 'pre',
            color: '#000',
          }}
        >
          {DEFINITIONS.map((d) => (
            <div key={d}>{d}</div>
          ))}
        </div>
      </div>
    </div>
  );
}
